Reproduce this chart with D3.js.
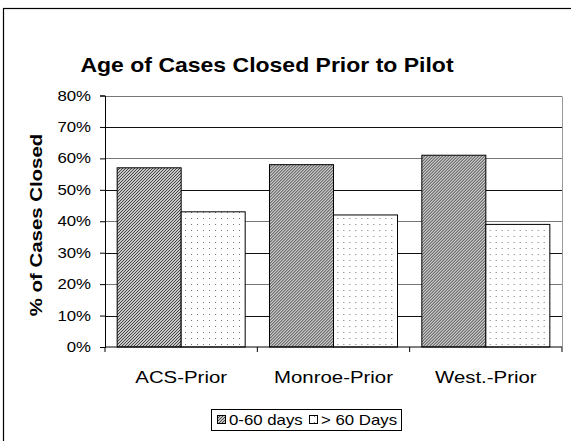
<!DOCTYPE html>
<html>
<head>
<meta charset="utf-8">
<script src="https://cdn.jsdelivr.net/npm/d3@7"></script>
<style>
  body { margin: 0; background: #fff; }
  text { font-family: "Liberation Sans", Arial, sans-serif; fill: #000; }
</style>
</head>
<body>
<svg id="chart" width="571" height="441"></svg>
<script>
var categories = ["ACS-Prior", "Monroe-Prior", "West.-Prior"];
var seriesNames = ["0-60 days", "> 60 Days"];
var shortTerm = [57, 58, 61];
var longTerm = [43, 42, 39];
var yTicks = [0, 10, 20, 30, 40, 50, 60, 70, 80];

var svg = d3.select("#chart");
var defs = svg.append("defs");
var stretch = 1.2;   // the original type is set wide

// hatched fill for 0-60 days
var hatch = defs.append("pattern")
    .attr("id", "hatch")
    .attr("patternUnits", "userSpaceOnUse")
    .attr("width", 3).attr("height", 3);
hatch.append("rect").attr("width", 3).attr("height", 3).attr("fill", "#c8c8c8");
hatch.append("path")
    .attr("d", "M-1,1 L1,-1 M0,3 L3,0 M2,4 L4,2")
    .attr("stroke", "#444").attr("stroke-width", 1);

// dotted fill for > 60 days
var dots = defs.append("pattern")
    .attr("id", "dots")
    .attr("patternUnits", "userSpaceOnUse")
    .attr("width", 6).attr("height", 6);
dots.append("rect").attr("width", 6).attr("height", 6).attr("fill", "#fff");
dots.append("rect").attr("x", 2).attr("y", 2).attr("width", 1).attr("height", 1).attr("fill", "#777");

var fills = ["url(#hatch)", "url(#dots)"];

function wideText(sel, x, y, extra) {
    return sel.append("text")
        .attr("transform", "translate(" + x + "," + y + ")" + (extra || "") + " scale(" + stretch + ",1)");
}

// outer frame
svg.append("rect")
    .attr("x", 3.5).attr("y", 8.5)
    .attr("width", 600).attr("height", 500)
    .attr("fill", "none").attr("stroke", "#000").attr("stroke-width", 1.2);

var plotL = 105, plotR = 562, plotT = 95.5, plotB = 347;

var x0 = d3.scaleBand().domain(categories).range([plotL, plotR]).padding(0);
var x1 = d3.scaleBand().domain(seriesNames).range([0, x0.bandwidth()])
    .paddingInner(0).paddingOuter(0.19);
var y = d3.scaleLinear().domain([0, 80]).range([plotB, plotT]);

// gridlines
svg.append("g").selectAll("line")
    .data(yTicks.filter(function(d) { return d > 0; }))
    .join("line")
    .attr("x1", plotL).attr("x2", plotR)
    .attr("y1", function(d) { return Math.round(y(d)) + 0.5; })
    .attr("y2", function(d) { return Math.round(y(d)) + 0.5; })
    .attr("stroke", function(d) { return (d / 10) % 2 === 0 ? "#777" : "#111"; })
    .attr("stroke-width", 1);

// right edge of plot area
svg.append("line")
    .attr("x1", plotR + 0.5).attr("x2", plotR + 0.5)
    .attr("y1", Math.round(plotT) + 0.5).attr("y2", plotB)
    .attr("stroke", "#999");

// bars
var rows = categories.map(function(c, i) {
    return { cat: c, values: [shortTerm[i], longTerm[i]] };
});
var groups = svg.append("g").selectAll("g")
    .data(rows)
    .join("g")
    .attr("transform", function(d) { return "translate(" + x0(d.cat) + ",0)"; });
groups.selectAll("rect")
    .data(function(d) { return d.values.map(function(v, j) { return { s: seriesNames[j], v: v, j: j }; }); })
    .join("rect")
    .attr("x", function(d) { return x1(d.s); })
    .attr("y", function(d) { return y(d.v); })
    .attr("width", x1.bandwidth())
    .attr("height", function(d) { return plotB - y(d.v); })
    .attr("fill", function(d) { return fills[d.j]; })
    .attr("stroke", "#000").attr("stroke-width", 1);

// y axis
var yAxis = d3.axisLeft(y).tickValues(yTicks).tickSize(5).tickFormat("");
var gy = svg.append("g").attr("transform", "translate(" + plotL + ",0)").call(yAxis);
gy.select(".domain").attr("stroke", "#000");
gy.selectAll(".tick line").attr("stroke", "#000");
yTicks.forEach(function(t) {
    wideText(svg, 91, y(t) + 5)
        .attr("text-anchor", "end")
        .style("font-size", "14px")
        .text(t + "%");
});

// x axis
var gx = svg.append("g").attr("transform", "translate(0," + plotB + ")");
gx.append("line").attr("x1", plotL).attr("x2", plotR).attr("stroke", "#000");
gx.selectAll(".tk")
    .data(categories.map(function(c) { return x0(c); }).concat([plotR]))
    .join("line")
    .attr("x1", function(d) { return d; }).attr("x2", function(d) { return d; })
    .attr("y1", 0).attr("y2", 5).attr("stroke", "#000");
categories.forEach(function(c) {
    wideText(svg, x0(c) + x0.bandwidth() / 2, plotB + 36)
        .attr("text-anchor", "middle")
        .style("font-size", "17px")
        .text(c);
});

// title
svg.append("text")
    .attr("transform", "translate(267,72) scale(1.15,1)")
    .attr("text-anchor", "middle")
    .style("font-size", "20px").style("font-weight", "bold")
    .text("Age of Cases Closed Prior to Pilot");

// y axis title
svg.append("text")
    .attr("transform", "translate(42," + 225 + ") rotate(-90) scale(" + stretch + ",1)")
    .attr("text-anchor", "middle")
    .style("font-size", "17px").style("font-weight", "bold")
    .text("% of Cases Closed");

// legend
var lg = svg.append("g");
lg.append("rect")
    .attr("x", 211.5).attr("y", 409.5).attr("width", 190).attr("height", 21)
    .attr("fill", "#fff").attr("stroke", "#000");
var lx = [217, 309];
seriesNames.forEach(function(s, i) {
    lg.append("rect")
        .attr("x", lx[i] + 0.5).attr("y", 415.5).attr("width", 8).attr("height", 8)
        .attr("fill", fills[i]).attr("stroke", "#000");
    wideText(lg, lx[i] + 12, 425)
        .style("font-size", "14px")
        .text(s);
});
</script>
</body>
</html>
